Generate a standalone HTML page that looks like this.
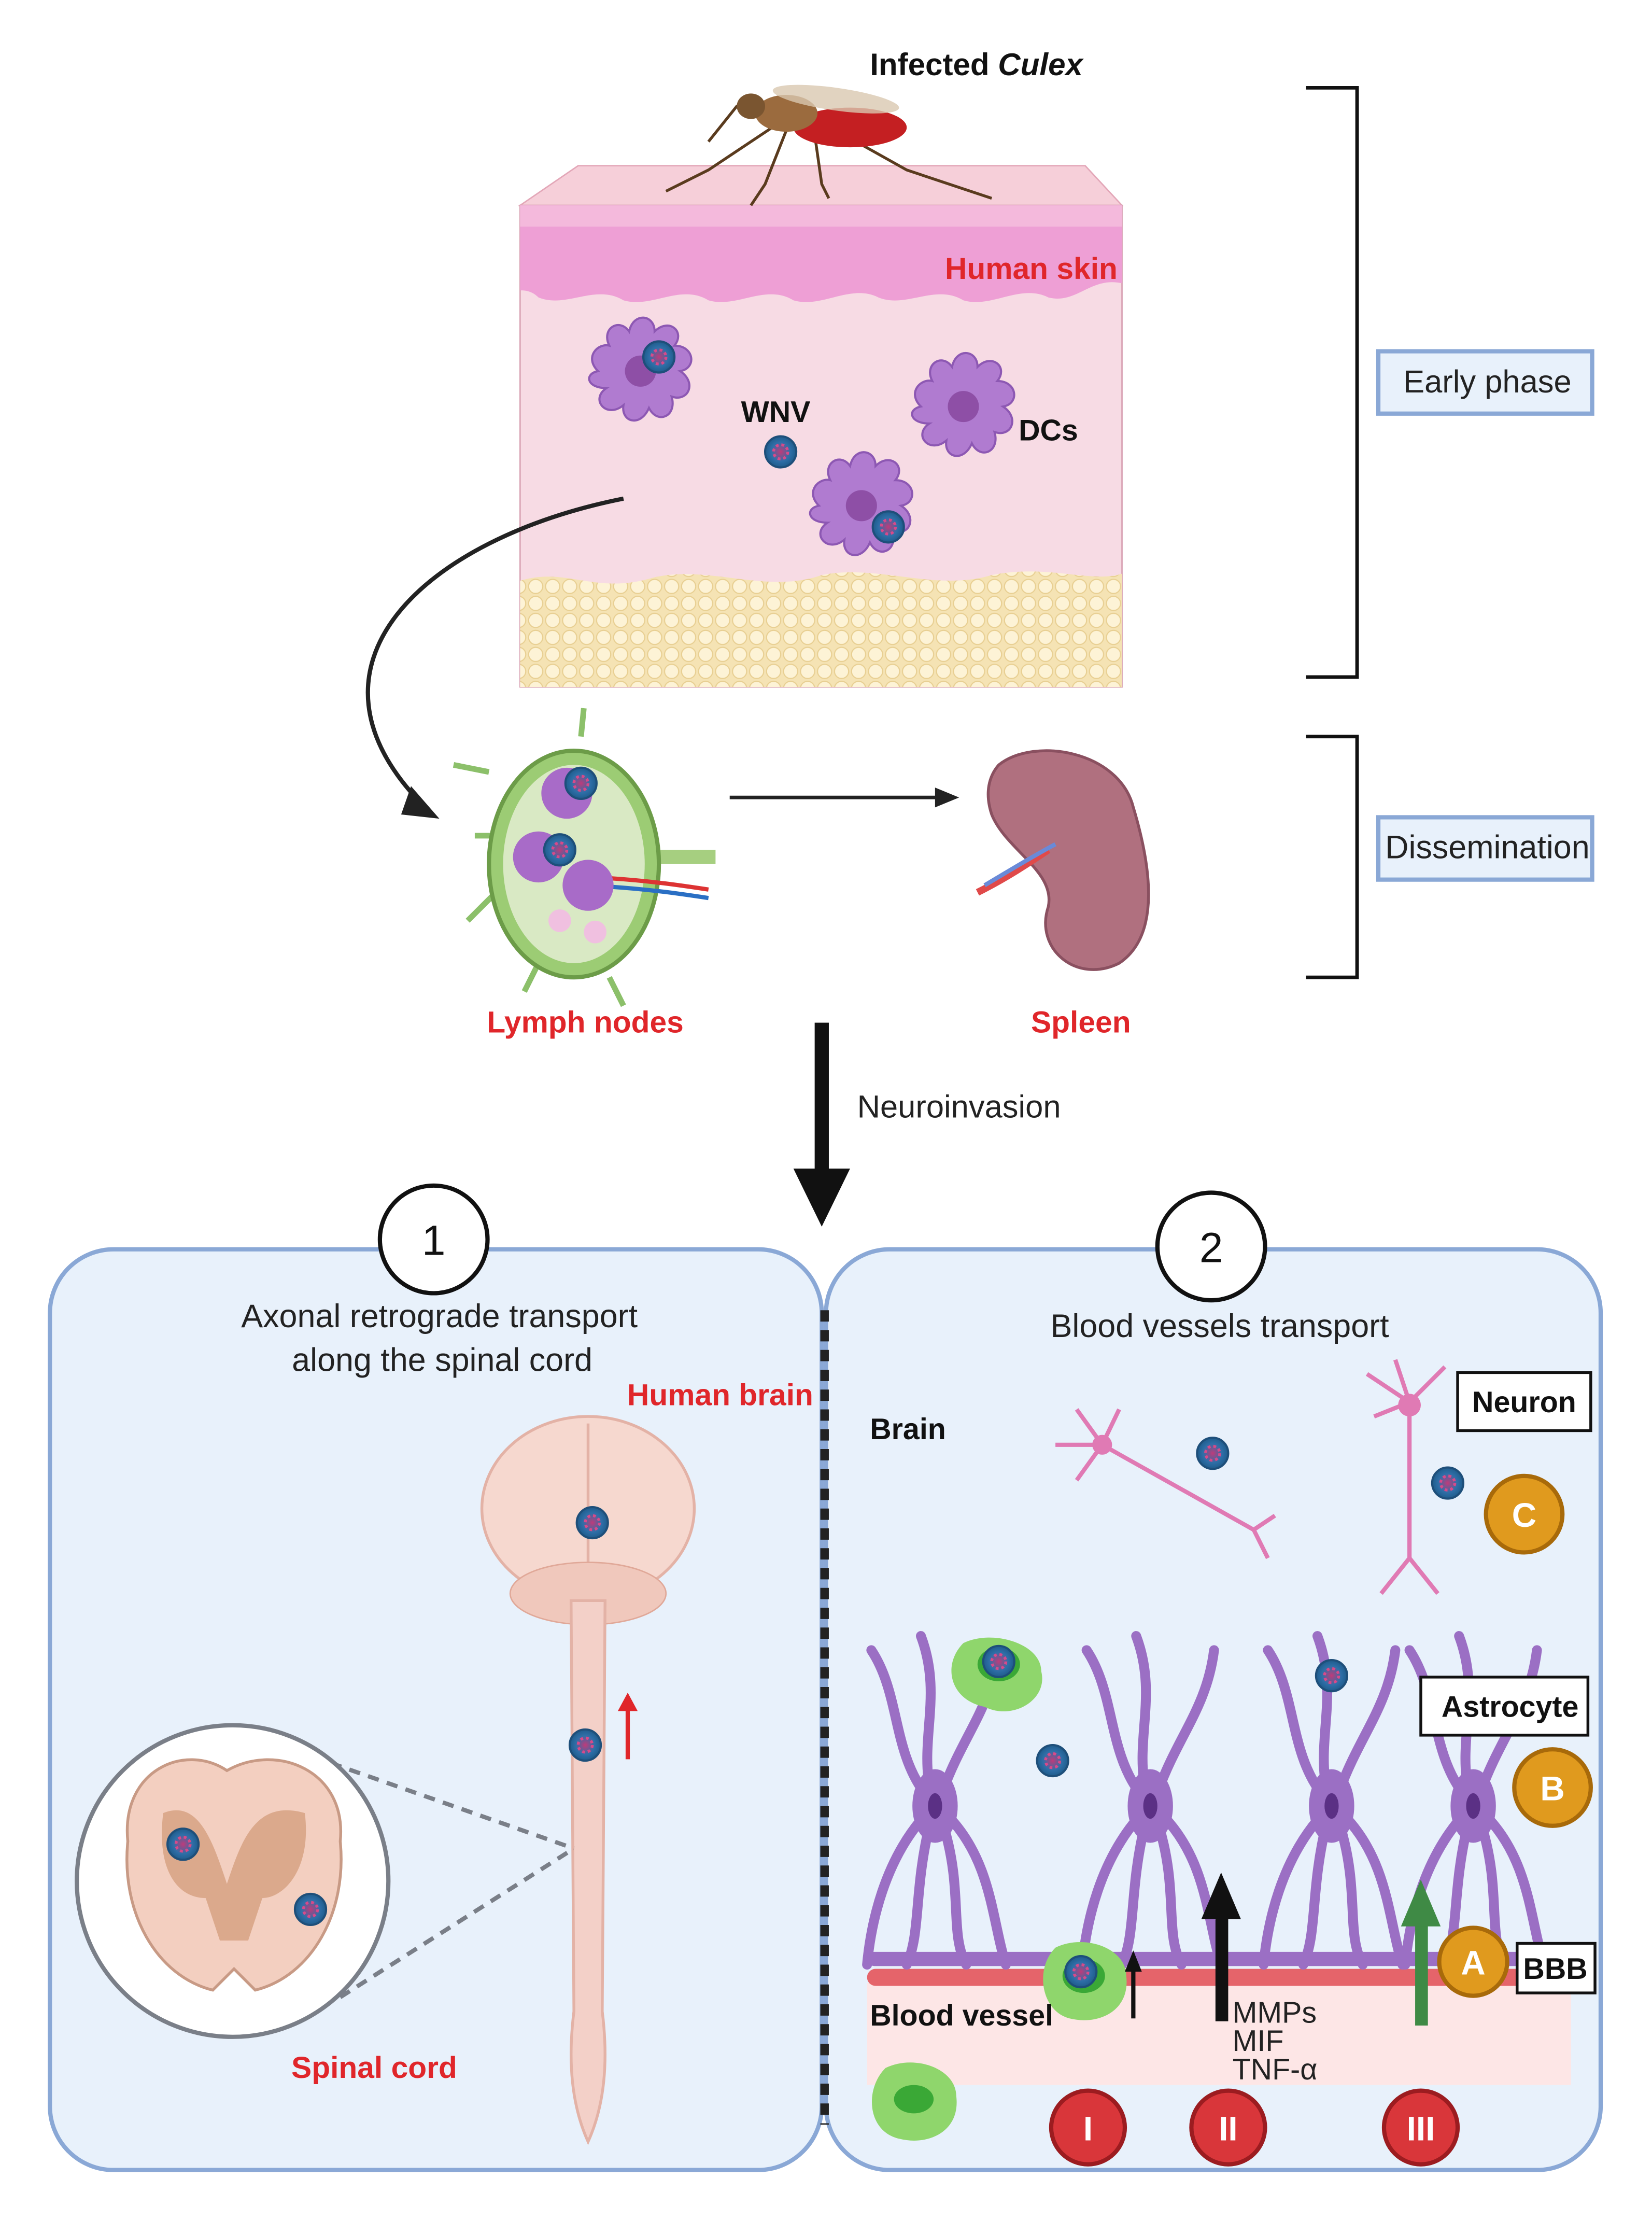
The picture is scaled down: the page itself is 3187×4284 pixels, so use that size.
<!DOCTYPE html>
<html><head><meta charset="utf-8">
<style>
html,body{margin:0;padding:0;background:#fff}
svg{display:block}
text{font-family:"Liberation Sans",sans-serif}
</style></head><body>
<svg width="3187" height="4284" viewBox="0 0 1166 1568" xmlns="http://www.w3.org/2000/svg">
<defs>
<radialGradient id="virus" cx="50%" cy="50%" r="50%"><stop offset="0" stop-color="#c03a7a"/><stop offset="0.6" stop-color="#2f6fa8"/><stop offset="1" stop-color="#1f5c8c"/></radialGradient>
<linearGradient id="fade" x1="1" y1="0" x2="0" y2="0"><stop offset="0" stop-color="#222" stop-opacity="0.1"/><stop offset="0.4" stop-color="#222"/></linearGradient>
<pattern id="fat" width="12" height="12" patternUnits="userSpaceOnUse"><rect width="12" height="12" fill="#f5e3b4"/><circle cx="6" cy="6" r="5" fill="#fdf3d6" stroke="#e8cf92" stroke-width="0.8"/></pattern>
<g id="v"><circle r="11" fill="url(#virus)" stroke="#1e4f7a" stroke-width="1.5"/><circle r="5" fill="none" stroke="#d84a8a" stroke-width="2" stroke-dasharray="2 2"/></g>
<g id="dc"><path d="M-30,0 C-40,-10 -30,-20 -22,-18 C-28,-30 -15,-38 -8,-28 C-5,-42 10,-40 10,-28 C20,-38 32,-28 24,-18 C38,-18 40,-2 28,0 C40,8 34,22 22,18 C26,32 12,38 6,26 C0,40 -14,36 -12,24 C-24,34 -36,20 -24,12 C-38,12 -40,2 -30,0z" fill="#b07bd0" stroke="#8d58b3" stroke-width="1.5"/><circle r="11" fill="#8e4fa6"/></g>
<g id="astro"><path d="M-8,-10 C-30,-40 -25,-80 -45,-110 M-4,-14 C-10,-50 5,-80 -10,-120 M6,-12 C20,-50 40,-70 45,-110 M-10,10 C-35,40 -45,80 -48,112 M-4,14 C-15,60 -10,90 -20,112 M6,14 C20,60 10,90 22,112 M10,8 C40,40 40,80 50,112" stroke="#9b6fc4" stroke-width="7" fill="none" stroke-linecap="round"/><ellipse rx="16" ry="26" fill="#9b6fc4"/><ellipse rx="5" ry="9" fill="#5b3085"/></g>
</defs>

<text x="614" y="53" font-size="22" font-weight="bold" fill="#111">Infected <tspan font-style="italic">Culex</tspan></text>

<polygon points="367,145 408,117 766,117 792,145" fill="#f6cfd9" stroke="#e3a7b8"/>
<rect x="367" y="145" width="425" height="340" fill="#f7dbe4" stroke="#d9a4b5"/>
<path d="M367,145 H792 V200 C770,195 760,215 740,210 C720,200 700,218 680,212 C660,200 640,218 620,210 C600,200 580,218 560,212 C540,200 520,218 500,212 C480,200 460,218 440,212 C420,200 400,218 380,210 C375,205 370,205 367,205z" fill="#ee9fd5"/>
<path d="M367,145 H792 V160 H367z" fill="#f4b9dc"/>
<path d="M367,410 C400,400 420,420 460,408 C500,398 540,420 580,406 C620,398 660,418 700,406 C740,398 770,412 792,405 V485 H367z" fill="url(#fat)"/>
<text x="667" y="197" font-size="21.5" font-weight="bold" fill="#e0262a">Human skin</text>
<g stroke="#5a3b1e" stroke-width="2" fill="none">
<path d="M545,90 L500,120 L470,135 M555,92 L540,130 L530,145 M575,95 L580,130 L585,140 M590,92 L640,120 L700,140 M565,85 L520,75 L500,100"/>
</g>
<ellipse cx="600" cy="90" rx="40" ry="14" fill="#c41f22"/>
<ellipse cx="555" cy="80" rx="22" ry="13" fill="#9b6b3e"/>
<ellipse cx="530" cy="75" rx="10" ry="9" fill="#7a5530"/>
<ellipse cx="590" cy="70" rx="45" ry="8" fill="#d9c8b0" opacity="0.8" transform="rotate(8 590 70)"/>
<use href="#dc" x="452" y="262"/><use href="#dc" x="680" y="287"/><use href="#dc" x="608" y="357"/>
<use href="#v" x="465" y="252"/><use href="#v" x="551" y="319"/><use href="#v" x="627" y="372"/>
<text x="523" y="298" font-size="21" font-weight="bold" fill="#111">WNV</text>
<text x="719" y="311" font-size="21" font-weight="bold" fill="#111">DCs</text>

<path d="M922,62 H958 V478 H922" fill="none" stroke="#111" stroke-width="2.5"/>
<path d="M922,520 H958 V690 H922" fill="none" stroke="#111" stroke-width="2.5"/>
<rect x="973" y="248" width="151" height="44" fill="#e8f1fb" stroke="#8aa8d6" stroke-width="3"/>
<text x="1050" y="277" font-size="22.5" text-anchor="middle" fill="#222">Early phase</text>
<rect x="973" y="577" width="151" height="44" fill="#e8f1fb" stroke="#8aa8d6" stroke-width="3"/>
<text x="1050" y="606" font-size="23" text-anchor="middle" fill="#222">Dissemination</text>

<path d="M440,352 C300,380 200,470 300,570" fill="none" stroke="#222" stroke-width="3"/>
<path d="M290,555 L310,578 L283,575z" fill="#222"/>
<g>
<path d="M345,545 L320,540 M350,630 L330,650 M380,680 L370,700 M430,690 L440,710 M410,520 L412,500 M360,590 L335,590" stroke="#8cc06a" stroke-width="4"/>
<path d="M460,605 L505,605" stroke="#a6cf80" stroke-width="10"/>
<ellipse cx="405" cy="610" rx="60" ry="80" fill="#9ccc74" stroke="#6c9c48" stroke-width="3"/>
<ellipse cx="405" cy="610" rx="50" ry="70" fill="#d9e9c4"/>
<path d="M430,620 C460,622 480,625 500,628" stroke="#d33" stroke-width="3" fill="none"/>
<path d="M430,626 C460,628 480,631 500,634" stroke="#2a6fc4" stroke-width="3" fill="none"/>
<circle cx="400" cy="560" r="18" fill="#a86bc8"/><circle cx="380" cy="605" r="18" fill="#a86bc8"/><circle cx="415" cy="625" r="18" fill="#a86bc8"/>
<circle cx="395" cy="650" r="8" fill="#f0c0e0"/><circle cx="420" cy="658" r="8" fill="#f0c0e0"/>
<use href="#v" x="410" y="553"/><use href="#v" x="395" y="600"/>
</g>
<path d="M515,563 H663" stroke="#222" stroke-width="2.5"/>
<path d="M660,556 L677,563 L660,570z" fill="#222"/>
<path d="M705,540 C730,520 790,530 800,570 C812,610 820,660 790,680 C760,695 730,670 740,640 C745,615 710,600 700,575 C695,560 698,548 705,540z" fill="#b0707f" stroke="#8a5060" stroke-width="2"/>
<path d="M690,630 C710,620 725,610 740,600" stroke="#e04a4a" stroke-width="5" fill="none"/>
<path d="M695,625 C712,615 728,605 745,596" stroke="#6a8ad8" stroke-width="3" fill="none"/>
<text x="413" y="729" font-size="21.5" font-weight="bold" fill="#e0262a" text-anchor="middle">Lymph nodes</text>
<text x="763" y="729" font-size="21.5" font-weight="bold" fill="#e0262a" text-anchor="middle">Spleen</text>

<rect x="575" y="722" width="10" height="105" fill="#111"/>
<path d="M560,825 L600,825 L580,866z" fill="#111"/>
<text x="605" y="789" font-size="22.5" fill="#222">Neuroinvasion</text>

<rect x="35" y="882" width="545" height="650" rx="45" fill="#e8f1fb" stroke="#8aa8d6" stroke-width="3"/>
<rect x="583" y="882" width="547" height="650" rx="45" fill="#e8f1fb" stroke="#8aa8d6" stroke-width="3"/>
<line x1="582" y1="925" x2="582" y2="1500" stroke="#222" stroke-width="6" stroke-dasharray="8 6"/>
<circle cx="306" cy="875" r="38" fill="#fff" stroke="#111" stroke-width="3"/>
<text x="306" y="886" font-size="30" text-anchor="middle" fill="#111">1</text>
<circle cx="855" cy="880" r="38" fill="#fff" stroke="#111" stroke-width="3"/>
<text x="855" y="891" font-size="30" text-anchor="middle" fill="#111">2</text>

<text x="310" y="937" font-size="23" text-anchor="middle" fill="#222">Axonal retrograde transport</text>
<text x="312" y="968" font-size="23" text-anchor="middle" fill="#222">along the spinal cord</text>
<text x="574" y="992" font-size="21.5" font-weight="bold" fill="#e0262a" text-anchor="end">Human brain</text>
<ellipse cx="415" cy="1065" rx="75" ry="65" fill="#f6d8cf" stroke="#e3b2a6" stroke-width="2"/>
<path d="M415,1005 V1120" stroke="#e3b2a6" stroke-width="2"/>
<ellipse cx="415" cy="1125" rx="55" ry="22" fill="#f0c8bc" stroke="#e0a898"/>
<path d="M403,1130 L427,1130 L425,1420 C430,1460 425,1490 415,1512 C405,1490 400,1460 405,1420z" fill="#f3d0c8" stroke="#e3b2a6" stroke-width="2"/>
<use href="#v" x="418" y="1075"/><use href="#v" x="413" y="1232"/>
<path d="M443,1242 V1205" stroke="#e0262a" stroke-width="3"/><path d="M436,1208 L443,1195 L450,1208z" fill="#e0262a"/>
<line x1="220" y1="1240" x2="405" y2="1305" stroke="#7a7f88" stroke-width="3" stroke-dasharray="8 6"/>
<line x1="240" y1="1410" x2="405" y2="1305" stroke="#7a7f88" stroke-width="3" stroke-dasharray="8 6"/>
<circle cx="164" cy="1328" r="110" fill="#fff" stroke="#7a7f88" stroke-width="3"/>
<path d="M90,1300 C85,1250 130,1230 160,1250 C195,1230 245,1250 240,1300 C245,1350 220,1395 180,1405 L165,1390 L150,1405 C110,1395 85,1350 90,1300z" fill="#f3cfc0" stroke="#c89a85" stroke-width="2"/>
<path d="M115,1280 C140,1270 150,1300 160,1330 C170,1300 180,1270 215,1280 C220,1320 200,1340 185,1340 L175,1370 L155,1370 L145,1340 C125,1340 110,1320 115,1280z" fill="#dba98c"/>
<use href="#v" x="129" y="1302"/><use href="#v" x="219" y="1348"/>
<text x="264" y="1467" font-size="21.5" font-weight="bold" fill="#e0262a" text-anchor="middle">Spinal cord</text>

<text x="861" y="944" font-size="23" text-anchor="middle" fill="#222">Blood vessels transport</text>
<text x="614" y="1016" font-size="21" font-weight="bold" fill="#111">Brain</text>
<g stroke="#e07ab4" stroke-width="3" fill="none">
<path d="M778,1020 L885,1080 M885,1080 L900,1070 M885,1080 L895,1100 M778,1020 L760,995 M778,1020 L745,1020 M778,1020 L760,1045 M778,1020 L790,995"/>
<path d="M995,990 V1100 M995,1100 L975,1125 M995,1100 L1015,1125 M995,990 L965,970 M995,990 L1020,965 M995,990 L970,1000 M995,990 L985,960"/>
</g>
<circle cx="778" cy="1020" r="7" fill="#e07ab4"/><circle cx="995" cy="992" r="8" fill="#e07ab4"/>
<use href="#v" x="856" y="1026"/><use href="#v" x="1022" y="1047"/>
<rect x="1029" y="969" width="94" height="41" fill="#fff" stroke="#111" stroke-width="2"/>
<text x="1076" y="997" font-size="21" font-weight="bold" text-anchor="middle" fill="#111">Neuron</text>
<circle cx="1076" cy="1069" r="27" fill="#e09a1e" stroke="#a86a0a" stroke-width="3"/>
<text x="1076" y="1078" font-size="24" font-weight="bold" text-anchor="middle" fill="#fff">C</text>
<rect x="612" y="1400" width="497" height="72" fill="#fde6e6"/>
<rect x="612" y="1390" width="497" height="12" rx="6" fill="#e5646a"/>
<use href="#astro" x="660" y="1275"/><use href="#astro" x="812" y="1275"/><use href="#astro" x="940" y="1275"/><use href="#astro" x="1040" y="1275"/>
<rect x="612" y="1378" width="497" height="10" rx="5" fill="#9b6fc4"/>
<use href="#v" x="743" y="1243"/><use href="#v" x="940" y="1183"/>
<path d="M680,1160 C700,1150 735,1160 735,1180 C740,1200 715,1215 695,1205 C670,1200 665,1175 680,1160z" fill="#8fd66c"/>
<ellipse cx="705" cy="1175" rx="15" ry="12" fill="#3aa836"/><use href="#v" x="705" y="1173"/>
<path d="M745,1375 C765,1365 795,1375 795,1395 C798,1420 775,1430 755,1425 C735,1420 730,1390 745,1375z" fill="#8fd66c"/>
<ellipse cx="765" cy="1395" rx="15" ry="12" fill="#3aa836"/><use href="#v" x="763" y="1392"/>
<path d="M625,1460 C645,1450 675,1460 675,1480 C678,1505 655,1515 635,1510 C612,1505 610,1475 625,1460z" fill="#8fd66c"/>
<ellipse cx="645" cy="1482" rx="14" ry="10" fill="#3aa836"/>
<rect x="1003" y="1184" width="118" height="41" fill="#fff" stroke="#111" stroke-width="2"/>
<text x="1066" y="1212" font-size="21" font-weight="bold" text-anchor="middle" fill="#111">Astrocyte</text>
<circle cx="1096" cy="1262" r="27" fill="#e09a1e" stroke="#a86a0a" stroke-width="3"/>
<text x="1096" y="1271" font-size="24" font-weight="bold" text-anchor="middle" fill="#fff">B</text>
<circle cx="1040" cy="1385" r="24" fill="#e09a1e" stroke="#a86a0a" stroke-width="3"/>
<text x="1040" y="1394" font-size="24" font-weight="bold" text-anchor="middle" fill="#fff">A</text>
<rect x="1071" y="1372" width="55" height="35" fill="#fff" stroke="#111" stroke-width="2"/>
<text x="1098" y="1397" font-size="21" font-weight="bold" text-anchor="middle" fill="#111">BBB</text>
<path d="M800,1425 V1390" stroke="#111" stroke-width="3"/><path d="M794,1392 L800,1377 L806,1392z" fill="#111"/>
<rect x="858" y="1352" width="9" height="75" fill="#111"/><path d="M848,1355 L862,1322 L876,1355z" fill="#111"/>
<rect x="999" y="1358" width="9" height="72" fill="#3f8a45"/><path d="M989,1360 L1003,1327 L1017,1360z" fill="#3f8a45"/>
<text x="614" y="1430" font-size="21" font-weight="bold" fill="#111">Blood vessel</text>
<text x="870" y="1428" font-size="21" fill="#222">MMPs</text>
<text x="870" y="1448" font-size="21" fill="#222">MIF</text>
<text x="870" y="1468" font-size="21" fill="#222">TNF-α</text>
<g font-size="24" font-weight="bold" fill="#fff" text-anchor="middle">
<circle cx="768" cy="1502" r="26" fill="#d9363a" stroke="#9c1c20" stroke-width="3"/><text x="768" y="1511">I</text>
<circle cx="867" cy="1502" r="26" fill="#d9363a" stroke="#9c1c20" stroke-width="3"/><text x="867" y="1511">II</text>
<circle cx="1003" cy="1502" r="26" fill="#d9363a" stroke="#9c1c20" stroke-width="3"/><text x="1003" y="1511">III</text>
</g>
</svg>
</body></html>
